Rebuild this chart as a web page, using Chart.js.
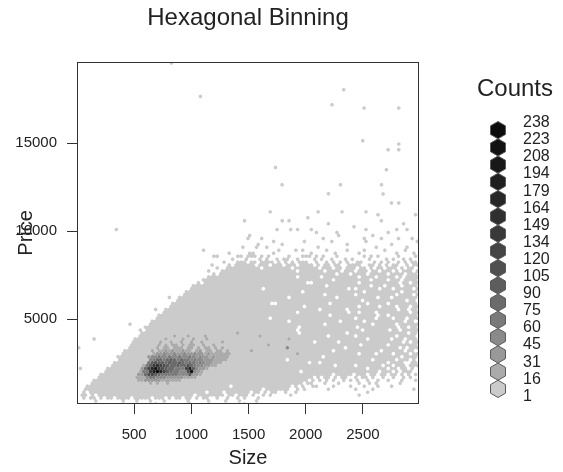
<!DOCTYPE html>
<html>
<head>
<meta charset="utf-8">
<script src="https://cdn.jsdelivr.net/npm/chart.js@4.4.1/dist/chart.umd.min.js"></script>
<style>
  html, body { margin: 0; padding: 0; background: #fff; }
</style>
</head>
<body>
<canvas id="cv-hex" width="563" height="472"></canvas>
<script>
const X_TICKS = [500, 1000, 1500, 2000, 2500];
const Y_TICKS = [5000, 10000, 15000];
const COUNT_BREAKS = [1, 16, 31, 45, 60, 75, 90, 105, 120, 134, 149, 164, 179, 194, 208, 223, 238];
const LEVEL_COLORS = ['#cbcbcb', '#ababab', '#999999', '#8a8a8a', '#7a7a7a', '#6b6b6b', '#5d5d5d', '#505050',
                      '#444444', '#393939', '#2f2f2f', '#272727', '#1f1f1f', '#181818', '#121212', '#0c0c0c'];
const X_RANGE = [0, 2990];
const Y_RANGE = [170, 19620];
const HEX_DX = 29.9;   // cell width in Size units (100 bins)
const HEX_DY = 168;    // row step in Price units
const TOP_ROW = 65;

// one string per hex row, top row first; '-' empty, 'o' lowest count class, 1-9 a-f darker classes
const HEX_ROWS = [
  '----------|----------|----------|----------|----------|------o---|----------|o------o--|----o-----|----------',
  '----------|----------|----------|----------|----------|----------|----------|----------|--------o-|---------o',
  '----------|----------|----------|----------|----------|----------|-------o--|----------|----------|----------',
  '----------|----------|----------|----------|---------o|----------|o-o-------|----------|---------o|----------',
  '----------|----------|----------|----------|----------|----------|----------|---o------|----------|-----o----',
  '----------|----------|----------|----------|----------|----------|----------|----------|-o--------|----------',
  '----------|-o--------|----------|----------|----------|--------o-|--o-o---o-|----------|----o-----|---o--o---',
  '----------|----------|----------|----------|----------|----------|----------|o-----o---|----------|-o--------',
  '----------|----------|----------|----------|----------|o---------|----------|------o---|------o---|----------',
  '----------|----------|----------|----------|----------|o---o-----|----------|--o-------|----o----o|----o---o-',
  '----------|----------|----------|----------|----------|-------o--|------o---|----o-----|----o-----|---------o',
  '----------|----------|----------|----------|----------|---o------|o---------|---------o|----------|--o-------',
  '----------|----------|----------|----------|--------o-|--o--o----|----------|o---------|-------o--|------o---',
  '----------|----------|----------|-------o--|----------|---------o|----o-o---|---o-----o|----o-----|o-----o---',
  '----------|----------|----------|----------|----o-----|oo-----o--|--------o-|-----o----|--o-------|---o----o-',
  '----------|----------|----------|----------|oo-----oo-|ooo-o-o---|--o---ooo-|o-o---o---|----o-o-o-|----o----o',
  '----------|----------|----------|----------|-----o---o|---o-o--o-|oo--o----o|-o--o---o-|o----o----|o-o--o-o--',
  '----------|----------|----------|----------|---o---ooo|-oo-oooo-o|-o-o-ooo--|o--o-o-o-o|--oo---o-o|-o--o-o-oo',
  '----------|----------|----------|---------o|----o-oooo|oo-ooo-ooo|-ooo-oooo-|o-oo-oo--o|ooo--oo-o-|o-oo--o-oo',
  '----------|----------|----------|----------|-o--oooooo|oooo-ooooo|ooo-oooooo|o-ooo-oo-o|oo-oo-o-oo|-ooo-o-oo-',
  '----------|----------|----------|--------o-|--oooooooo|oooooooooo|oooo-ooooo|oo-oooo-oo|o-ooo-oo-o|oo-o-ooo-o',
  '----------|----------|----------|----------|o-oooooooo|oooooooooo|oooooooooo|oooooo-ooo|-oooo-oooo|o-oooo-ooo',
  '----------|----------|----------|--------oo|oooooooooo|oooooooooo|oooo-ooooo|o-oooooooo|oo-oooo-oo|ooo-o-oooo',
  '----------|----------|----------|-------ooo|oooooooooo|oooooooooo|oooooooooo|ooooo-oooo|oooooo-ooo|o-ooo-oooo',
  '----------|----------|----------|-----o-ooo|oooooooooo|oooooooooo|ooooooo--o|oooooooooo|oo-ooooooo|oooo-oo-oo',
  '----------|----------|----------|----oooooo|oooooooooo|oooooooooo|oooooooooo|ooo-oooooo|oooooo-ooo|-oooo-oooo',
  '----------|----------|----------|---ooooooo|oooooooooo|oooo-ooooo|oooooooooo|ooooooooo-|o-oooooo-o|oo-ooooo-o',
  '----------|----------|----------|--oooooooo|oooooooooo|oooooooooo|oooooo-ooo|oooooooooo|oooo-ooooo|ooooo-oooo',
  '----------|----------|----------|-ooooooooo|oooooooooo|oooooooooo|oooooooooo|oo-ooooooo|o-oooooooo|ooo-oooo-o',
  '----------|----------|-------o--|oooooooooo|oooooooooo|oooooooooo|oo-ooooooo|oooooo-ooo|oooooooo-o|oo-ooooooo',
  '----------|----------|---------o|oooooooooo|oooooooooo|oooooooooo|oooooooooo|oooooooooo|ooo-oooooo|oooooo-oo-',
  '----------|----------|--------oo|oooooooooo|oooooooooo|ooooooo--o|oooooooooo|oooo-ooooo|ooooo-oooo|o-oooooooo',
  '----------|----------|-------ooo|oooooooooo|oooooooooo|oooooooooo|oooooo-ooo|oooooooooo|oo-ooooo-o|ooo-ooo-oo',
  '----------|----------|---o--oooo|oooooooooo|oooooooooo|oooooooooo|oooooooooo|o-ooooooo-|oooooooooo|oooo-oo-oo',
  '----------|----------|-----ooooo|oooooooooo|oooooooooo|oooooooooo|oooo-ooooo|ooooooooo-|oo-oooo-oo|ooooooo-oo',
  '----------|----------|----oooooo|oooooooooo|oooooooooo|oooooooooo|oooooooooo|oooo-ooooo|oooooooo-o|o-oooooooo',
  '----------|----------|---ooooooo|oooooooooo|oooooooooo|oooooo-ooo|oooooooooo|oooooooooo|o-ooooo-oo|oo-ooo-ooo',
  '----------|----------|--oooooooo|oooooooooo|oooooooooo|oooooooooo|oo-ooooooo|ooooooo-oo|oooo-ooooo|oooooo-oo-',
  '----------|-----o----|-ooooooooo|oooooooooo|oooooooooo|oooooooooo|oooooooooo|oo-ooooooo|oooooo-ooo|ooo-oooooo',
  '----------|----------|oooooooooo|oooooooooo|oooooooooo|oooooooooo|ooooo-oooo|oooooooooo|oo-ooooooo|oooo-oo-oo',
  '----------|--------o-|oooooooooo|oooooooooo|oooooooooo|oooooooooo|oooo-ooooo|oooooooooo|ooo-oooooo|o-oo-ooooo',
  '----------|---------o|oooooooooo|oooooooooo|ooooooo1oo|oooooooooo|ooooo-oooo|ooooooooo-|oooooooooo|ooooooo-oo',
  '----------|--------oo|oooooooo1o|oo1oooo1oo|oooooooooo|ooo1oooooo|oooooooooo|ooo-oooooo|o-oooooooo|ooo-ooooo-',
  '-----o----|-------ooo|oooooo1ooo|o1oo1ooo1o|oooooooooo|oooooooooo|oo1ooooooo|oooooooooo|ooooo-oooo|oo-ooo-ooo',
  '----------|------oooo|oooo1oo1oo|1oo1oo1ooo|oo1ooooooo|oooooooooo|ooooooooo-|oooooo-ooo|oooooooooo|ooooo-o-oo',
  '----------|------oooo|oooo1o1o11|o1o11oo1oo|1ooooooooo|oooooo1ooo|oooooooooo|oooooooooo|ooo-oooooo|o-oooooooo',
  'o---------|-----ooooo|ooo1o11o11|1o11o1o11o|1o1ooooooo|oooooooooo|o3oooooooo|oooooooo-o|oooooooooo|oooo-o-ooo',
  '----------|----oooooo|oo1o112121|1211o12o11|o11o1ooooo|o1oooooooo|oooooooooo|ooooo-oooo|ooooooooo-|oooooo-oo-',
  '----------|---ooooooo|oo12232232|2322322121|11111ooooo|oooooooooo|oooo1ooooo|oooooooooo|oo-oooo-oo|oo-oooo-oo',
  '----------|--oooooooo|o233433433|4334323221|21111ooooo|oooooooooo|oooooooooo|oo-ooooooo|oooooooooo|ooooo-oooo',
  '----------|--oooooooo|o345545654|5443433222|1111oooooo|oooooooooo|o-oooooooo|oooooooooo|oooooo-ooo|ooo-ooo-o-',
  '----------|-ooooooooo|o467665655|6545434322|111ooooooo|oooooooooo|oooooooo-o|o-oooooooo|oooooooooo|o-oooo--oo',
  '----------|ooooooooo1|469a876556|5575433221|1ooooooooo|oooooooooo|oooooooooo|ooooo-oooo|o-ooooooo-|oo-ooo-ooo',
  '-o-------o|ooooooooo2|58bd976554|448b63221o|oooooooooo|oooooooooo|oooooooooo|oooooooooo|ooooo-oooo|o-oo-oo-o-',
  '--------oo|oooooooo14|49cfb86544|337e321ooo|oooooooooo|oooooooooo|ooooo-oooo|oooooooooo|oooooooo-o|oo-o-ooo--',
  '-------ooo|oooooooo22|5786544444|3336221ooo|oooooooooo|oooooooooo|oooooooooo|ooooo-oooo|o-ooo-oo-o|o-oo-o-o-o',
  '------oooo|ooooooo111|3443332222|21111ooooo|oooooooooo|oooooooooo|ooooooooo-|o-oo-o-oo-|-o-oo-o--o|--o--o-o--',
  '-----ooooo|oooooooo11|2222211111|1ooooooooo|oooooooooo|oooooooooo|oooooooo-o|-o-o-o--o-|o-o--o--o-|-o---o---o',
  '----oooooo|oooooooooo|o1o1oo1ooo|oooooooooo|oooooooooo|oooooooooo|oooooo-oo-|--o---o---|--o--o-o--|----o-----',
  '---ooooooo|oooooooooo|oooooooooo|oooooooooo|ooooo-oooo|oooooooooo|ooo-o-o--o|o----o----|o---o---o-|--o-------',
  '--oooooooo|oooooooooo|oooooooooo|oooooooooo|oooooooooo|oooo-ooooo|oo--o-o---|---o------|-o----o---|--------o-',
  '--o-oooooo|oooooooooo|oooooooooo|oooooooo-o|ooo-oooooo|o-oo-o-oo-|-o--o-----|----------|-----o----|----------',
  '-oo-o-oooo|oooooooooo|oooooooooo|oooo-ooooo|ooo-oo-ooo|-o--o-o---|--o-------|----------|--o-------|----------',
  '--o-oo-o-o|o-oooo-ooo|oo-ooo-o-o|o-oo-o-oo-|-o--o--o-o|---o------|----------|----------|----------|----------',
  '-----o----|---o---o--|-o---o----|--o-----o-|---o---o--|--o-------|----------|----------|----------|----------',
  '----------|----------|---o------|---o------|---------o|----------|----------|----------|----------|----------'
];

// single cells far above the main cloud (Size, Price)
const OUTLIERS = [
  [826, 19545], [1079, 17651], [2332, 18030], [2230, 17177], [2510, 16988], [2813, 16988],
  [2498, 15132], [2813, 14942], [2813, 14620], [2720, 14620], [2705, 13484], [1735, 13616],
  [1793, 12631], [2303, 12631], [2198, 12120], [2662, 12631], [2676, 12101], [2749, 11589], [2813, 11589]
];

const LEVEL_CODES = 'o123456789abcdef';
const FONT = '"Liberation Sans", Arial, sans-serif';

const cells = LEVEL_COLORS.map(() => []);
HEX_ROWS.forEach((line, i) => {
    const row = TOP_ROW - i;
    line.replace(/\|/g, '').split('').forEach((ch, col) => {
        const lvl = LEVEL_CODES.indexOf(ch);
        if (lvl < 0) return;
        cells[lvl].push({
            x: X_RANGE[0] + HEX_DX * (col + (row % 2 ? 0.5 : 0)),
            y: Y_RANGE[0] + HEX_DY * row
        });
    });
});
OUTLIERS.forEach(([x, y]) => cells[0].push({ x, y }));

function hexPath(ctx, cx, cy, r) {
    const hw = r * Math.sqrt(3) / 2;
    ctx.moveTo(cx, cy - r);
    ctx.lineTo(cx + hw, cy - r / 2);
    ctx.lineTo(cx + hw, cy + r / 2);
    ctx.lineTo(cx, cy + r);
    ctx.lineTo(cx - hw, cy + r / 2);
    ctx.lineTo(cx - hw, cy - r / 2);
    ctx.closePath();
}

// draws each point of the scatter datasets as a hexagon
const hexCells = {
    id: 'hexCells',
    afterDatasetsDraw(chart) {
        const { ctx, chartArea: a, scales: { x } } = chart;
        const w = Math.abs(x.getPixelForValue(HEX_DX) - x.getPixelForValue(0));
        const r = w / Math.sqrt(3);
        ctx.save();
        ctx.beginPath();
        ctx.rect(a.left, a.top, a.right - a.left, a.bottom - a.top);
        ctx.clip();
        chart.data.datasets.forEach((ds, i) => {
            const meta = chart.getDatasetMeta(i);
            ctx.beginPath();
            meta.data.forEach(pt => hexPath(ctx, pt.x, pt.y, r));
            ctx.fillStyle = ds.backgroundColor;
            ctx.fill();
        });
        ctx.restore();
    }
};

// plot frame and the "Counts" key on the right
const countsKey = {
    id: 'countsKey',
    afterDraw(chart) {
        const { ctx, chartArea: a } = chart;
        ctx.save();
        ctx.strokeStyle = '#333';
        ctx.lineWidth = 1;
        ctx.strokeRect(Math.round(a.left) + 0.5, Math.round(a.top) + 0.5,
                       Math.round(a.right - a.left) - 1, Math.round(a.bottom - a.top) - 1);

        ctx.fillStyle = '#222';
        ctx.font = '24px ' + FONT;
        ctx.textAlign = 'center';
        ctx.textBaseline = 'alphabetic';
        ctx.fillText('Counts', 515, 96);

        const step = 17.25, r = step / 2, top = 121.5, cx = 498;
        const n = LEVEL_COLORS.length;
        for (let k = 0; k < n; k++) {
            ctx.beginPath();
            hexPath(ctx, cx, top + r + step * k, r);
            ctx.fillStyle = LEVEL_COLORS[n - 1 - k];
            ctx.fill();
            ctx.strokeStyle = '#5a5a5a';
            ctx.stroke();
        }

        ctx.fillStyle = '#222';
        ctx.font = '16px ' + FONT;
        ctx.textAlign = 'left';
        ctx.textBaseline = 'middle';
        COUNT_BREAKS.slice().reverse().forEach((v, k) => {
            ctx.fillText(String(v), 523, 122.7 + k * 17.1);
        });
        ctx.restore();
    }
};

Chart.defaults.font.family = FONT;
Chart.defaults.color = '#222';

new Chart(document.getElementById('cv-hex'), {
    type: 'scatter',
    data: {
        datasets: cells.map((data, i) => ({
            label: COUNT_BREAKS[i] + '-' + COUNT_BREAKS[i + 1],
            data,
            backgroundColor: LEVEL_COLORS[i],
            pointRadius: 0,
            pointHoverRadius: 0
        }))
    },
    options: {
        responsive: false,
        animation: false,
        events: [],
        layout: { padding: { left: 0, right: 144, top: 0, bottom: 0 } },
        plugins: {
            legend: { display: false },
            tooltip: { enabled: false },
            title: {
                display: true,
                fullSize: false,
                text: 'Hexagonal Binning',
                color: '#222',
                font: { size: 24, weight: 'normal' },
                padding: { top: 4, bottom: 29 }
            }
        },
        scales: {
            x: {
                type: 'linear',
                min: X_RANGE[0],
                max: X_RANGE[1],
                afterBuildTicks: s => { s.ticks = X_TICKS.map(v => ({ value: v })); },
                afterFit: s => { s.height = 68; },
                border: { display: false },
                grid: { drawOnChartArea: false, drawTicks: true, tickLength: 10, color: '#333' },
                ticks: { font: { size: 15 }, color: '#222', padding: 12, maxRotation: 0, autoSkip: false,
                         callback: v => String(v) },
                title: { display: true, text: 'Size', font: { size: 20 }, color: '#222',
                         padding: { top: 0, bottom: 2 } }
            },
            y: {
                type: 'linear',
                min: Y_RANGE[0],
                max: Y_RANGE[1],
                afterBuildTicks: s => { s.ticks = Y_TICKS.map(v => ({ value: v })); },
                afterFit: s => { s.width = 77; },
                border: { display: false },
                grid: { drawOnChartArea: false, drawTicks: true, tickLength: 10, color: '#333' },
                ticks: { font: { size: 15 }, color: '#222', padding: 10, autoSkip: false,
                         callback: v => String(v) },
                title: { display: true, text: 'Price', font: { size: 20 }, color: '#222',
                         padding: { top: 14, bottom: 0 } }
            }
        }
    },
    plugins: [hexCells, countsKey]
});
</script>
</body>
</html>
